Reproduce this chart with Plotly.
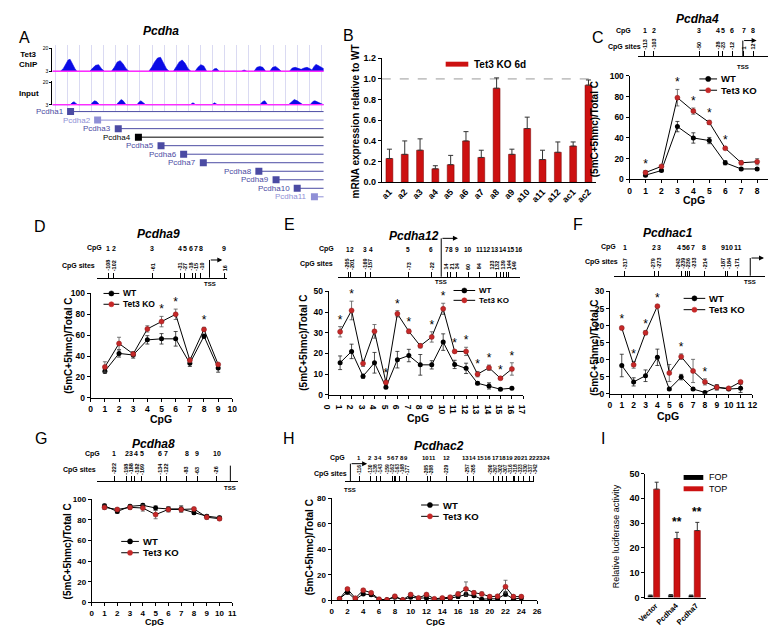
import plotly.graph_objects as go

W, H = 776, 626
FONT = "Liberation Sans, Arial, Helvetica, sans-serif"

# ============================ DATA ============================
# Panel A - browser tracks (x in track units, signal on 3..20 scale)
chip_pos = [0, 8, 11, 14, 16, 18, 20, 23, 25, 38, 41, 44, 47, 50, 53, 60, 63, 66, 69, 72, 75, 78,
            98, 101, 104, 107, 110, 113, 116, 119, 123, 126, 129, 132, 135, 138, 141, 145, 148, 151,
            154, 157, 162, 165, 167, 170, 192, 195, 198, 205, 208, 211, 214, 217, 221, 224, 227, 230,
            233, 241, 244, 247, 250, 253, 256, 259, 262, 264, 266, 268, 270, 273, 276]
chip_sig = [3, 3, 5, 9.5, 11.5, 12, 9, 5, 3, 3, 5.5, 7.5, 8, 5, 3, 3, 6, 10, 11, 8.5, 5, 3,
            3, 6, 10, 13, 13.5, 9, 5, 3, 3, 6.5, 10, 11.5, 9, 5, 3, 3, 6, 8,
            7, 3, 3, 5, 5.2, 3, 3, 4, 3, 3, 6, 6.7, 6, 3, 3, 6, 6.7, 5,
            3, 3, 5.5, 6, 5, 4.5, 5.5, 6, 5, 4, 6.5, 8.2, 7.5, 6, 5]
input_pos = [0, 18, 20, 22, 24, 26, 39, 41, 43, 45, 48, 65, 68, 70, 72, 75, 86, 88, 90, 93, 95,
             140, 143, 146, 162, 165, 168, 211, 214, 216, 219, 240, 243, 246, 249, 252, 255,
             262, 265, 267, 270, 273, 276]
input_sig = [3, 3, 4.5, 5.3, 4, 3, 3, 5, 6, 5.5, 3, 3, 5.5, 6.9, 6, 3, 3, 5, 6, 4.5, 3,
             3, 4.5, 3, 3, 4.5, 3, 3, 5.5, 6, 3, 3, 5, 6.9, 6, 4.5, 3,
             3, 5.5, 6, 5, 4, 3]
gene_names = ["Pcdha1", "Pcdha2", "Pcdha3", "Pcdha4", "Pcdha5", "Pcdha6", "Pcdha7",
              "Pcdha8", "Pcdha9", "Pcdha10", "Pcdha11"]
gene_start = [18.5, 46, 67, 87.5, 110.5, 133.5, 153.5, 210, 227.5, 249, 266.5]
gene_end = [276, 276, 276, 276, 276, 276, 276, 276, 276, 276, 276]
gene_row = [1, 2, 3, 4, 5, 6, 7, 8, 9, 10, 11]

# Panel B - mRNA expression relative to WT
b_genes = ["a1", "a2", "a3", "a4", "a5", "a6", "a7", "a8", "a9", "a10", "a11", "a12", "ac1", "ac2"]
b_expr = [0.23, 0.27, 0.31, 0.13, 0.17, 0.40, 0.24, 0.91, 0.27, 0.52, 0.22, 0.29, 0.35, 0.94]
b_err = [0.09, 0.13, 0.11, 0.03, 0.09, 0.09, 0.07, 0.10, 0.05, 0.11, 0.09, 0.10, 0.04, 0.05]

# Panel C - Pcdha4
c_cpg = [1, 2, 3, 4, 5, 6, 7, 8]
c_sites = [-113, -103, -50, -28, -23, -12, 1, 12]
c_wt = [4, 8.5, 51, 40, 37.5, 16, 10, 10]
c_wt_err = [1, 1, 5, 5, 3, 2, 1, 1]
c_ko = [6.5, 12.5, 79, 66, 55, 30, 16, 17]
c_ko_err = [2, 1, 8, 3, 2, 1, 2, 3]
c_sig = [1, 3, 4, 5, 6]

# Panel D - Pcdha9
d_cpg = [1, 2, 3, 4, 5, 6, 7, 8, 9]
d_sites = [-108, -102, -61, -31, -27, -18, -15, -10, 16]
d_wt = [25.5, 42.5, 41, 55.5, 56.5, 56.5, 33, 59, 28.5]
d_wt_err = [2, 3.5, 3, 4, 5, 7, 3, 2, 4]
d_ko = [29.5, 52, 42, 66, 73, 80, 36, 65.5, 32]
d_ko_err = [5, 6, 2, 3, 5, 5, 2, 2, 1]
d_sig = [5, 6, 8]

# Panel E - Pcdha12
e_cpg = [1, 2, 3, 4, 5, 6, 7, 8, 9, 10, 11, 12, 13, 14, 15, 16]
e_sites = [-205, -201, -169, -157, -73, -22, 14, 21, 34, 60, 84, 123, 132, 139, 144, 149]
e_wt = [15.5, 21, 9, 15.5, 3.7, 17, 19, 14.5, 14.5, 25.5, 14.7, 12.8, 5.6, 4.3, 2.7, 3.2]
e_wt_err = [3.3, 3.5, 1, 5, 0.5, 4, 3, 5, 2, 4, 2, 2.5, 0.7, 1.5, 0.5, 0.5]
e_ko = [30.5, 40.8, 15.2, 30.7, 6, 39.2, 30.7, 23.7, 28, 41.6, 21, 21, 10, 13.1, 8, 12.5]
e_ko_err = [2.5, 4.5, 1.5, 3.3, 1, 1.5, 1, 1, 2.5, 2.7, 0.5, 2, 1.3, 1.3, 0.5, 3]
e_sig = [1, 2, 5, 6, 7, 9, 10, 11, 12, 13, 14, 15, 16]

# Panel F - Pcdhac1
f_cpg = [1, 2, 3, 4, 5, 6, 7, 8, 9, 10, 11]
f_sites = [-317, -279, -273, -243, -239, -236, -233, -214, -187, -184, -171]
f_wt = [8.3, 3.5, 5.3, 10.7, 1.4, 4.9, 1.4, 0.4, 1.9, 1.4, 1.6]
f_wt_err = [3.3, 1.2, 1.7, 2.4, 0.3, 0.8, 0.3, 0.2, 0.8, 0.3, 1.2]
f_ko = [19.3, 8.5, 17.9, 25.7, 6.1, 10.9, 6.7, 3.5, 1.9, 1.6, 3.5]
f_ko_err = [0.5, 1, 0.6, 0.3, 2.5, 0.8, 3.4, 0.9, 0.5, 0.3, 0.4]
f_sig = [1, 2, 3, 4, 6, 8]

# Panel G - Pcdha8
g_cpg = [1, 2, 3, 4, 5, 6, 7, 8, 9, 10]
g_sites = [-222, -198, -188, -182, -169, -134, -122, -83, -63, -26]
g_wt = [93.6, 88, 93, 94, 91.4, 90.5, 90.5, 86.7, 83.5, 82]
g_wt_err = [1.5, 1.5, 1.5, 1.5, 2, 2, 3, 1.5, 1.5, 1.5]
g_ko = [92, 90, 92, 91.4, 85, 90, 90, 90.5, 82.5, 81]
g_ko_err = [2, 1.5, 2, 3, 4, 2.5, 2.5, 1.5, 2, 1.5]
g_sig = []

# Panel H - Pcdhac2
h_cpg = [1, 2, 3, 4, 5, 6, 7, 8, 9, 10, 11, 12, 13, 14, 15, 16, 17, 18, 19, 20, 21, 22, 23, 24]
h_sites = [-116, -130, -138, -143, -159, -162, -163, -168, -177, -205, -208, -229,
           -257, -265, -290, -297, -302, -307, -316, -318, -323, -330, -337, -342]
h_wt = [1.3, 6.4, 0.8, 5.1, 4.4, 0.8, 0.5, 2.6, 0.5, 2.6, 1.8, 2, 0.8, 1.3, 1.8, 3, 4.6, 3.6,
        1, 1.3, 1.3, 5.1, 1, 2]
h_wt_err = [0.5, 1.5, 0.5, 1, 1, 0.5, 0.3, 1, 0.3, 1, 0.8, 1, 0.5, 0.5, 0.8, 1.5, 1.5, 1,
            0.5, 0.5, 0.5, 2, 0.5, 0.8]
h_ko = [1.3, 9, 1.8, 8, 6, 1, 0.5, 3.3, 0.5, 4.6, 2, 4.6, 1.3, 2, 2.6, 5.1, 9, 6, 5.1, 3, 3.3,
        10.8, 3, 3]
h_ko_err = [0.5, 1, 0.5, 1, 1, 0.5, 0.3, 1, 0.3, 1, 0.8, 1, 0.5, 0.8, 1, 1.5, 5.5, 1.5, 1.5,
            1, 1, 5, 1, 1]
h_sig = []

# Panel I - TOP/FOP luciferase
i_cats = ["Vector", "Pcdha4", "Pcdha7"]
i_fop = [0.8, 1.0, 0.8]
i_fop_err = [0.2, 0.2, 0.2]
i_top = [43.7, 23.8, 27.0]
i_top_err = [2.8, 2.5, 3.3]
i_sig = ["", "**", "**"]

# ============================ STYLE / LAYOUT ============================
BAR_RED = "#cc1111"
KO_RED = "#c62828"
GENE_BLUE = "#4b4ba3"
GENE_LIGHT = "#8f8fd6"
TRACK_BLUE = "#0b0be6"
MAGENTA = "#ff2bff"

fig = go.Figure()
layout = {}
annotations, shapes = [], []
axis_n = [0]


def PX(x):
    return x / W


def PY(y):
    return 1 - y / H


def new_axes(x0, x1, y_top, y_bot, xcfg, ycfg):
    axis_n[0] += 1
    n = axis_n[0]
    s = '' if n == 1 else str(n)
    layout['xaxis' + s] = dict(domain=[PX(x0), PX(x1)], anchor='y' + s, **xcfg)
    layout['yaxis' + s] = dict(domain=[PY(y_bot), PY(y_top)], anchor='x' + s, **ycfg)
    return 'x' + s, 'y' + s


def ann(x, y, s, size, xref='paper', yref='paper', xanchor='center', yanchor='middle',
        bold=True, italic=False, angle=0, color='black', **kw):
    annotations.append(dict(
        x=PX(x) if xref == 'paper' else x,
        y=PY(y) if yref == 'paper' else y,
        xref=xref, yref=yref, text=s, showarrow=False, xanchor=xanchor, yanchor=yanchor,
        textangle=angle, borderpad=0,
        font=dict(family=FONT, size=size, color=color,
                  weight='bold' if bold else 'normal',
                  style='italic' if italic else 'normal'), **kw))


def ax_style(size=8.5, **kw):
    d = dict(showline=True, linecolor='black', linewidth=1, ticks='outside', ticklen=3,
             tickwidth=1, tickcolor='black', showgrid=False, zeroline=False, fixedrange=True,
             tickfont=dict(family=FONT, size=size, color='black', weight='bold'))
    d.update(kw)
    return d


def dummy(xr, yr, x, y):
    fig.add_trace(go.Scatter(x=x, y=y, mode='markers', marker=dict(size=1, opacity=0),
                             xaxis=xr, yaxis=yr, showlegend=False, hoverinfo='skip'))


def repel(pos, widths, gap=0.6):
    """Spread 1-D label centres (sorted) so neighbouring labels do not overlap."""
    q = list(pos)
    for _ in range(400):
        moved = False
        for i in range(len(q) - 1):
            need = (widths[i] + widths[i + 1]) / 2 + gap
            d = q[i + 1] - q[i]
            if d < need - 1e-6:
                sh = (need - d) / 2
                q[i] -= sh
                q[i + 1] += sh
                moved = True
        if not moved:
            break
    return q


def lines_legend(x, y, gap, length, size):
    for i, (name, col) in enumerate((('WT', 'black'), ('Tet3 KO', KO_RED))):
        yy = y + i * gap
        shapes.append(dict(type='line', xref='paper', yref='paper', x0=PX(x), x1=PX(x + length),
                           y0=PY(yy), y1=PY(yy), line=dict(color='black', width=1)))
        cx, r = x + length / 2, 2.6
        shapes.append(dict(type='circle', xref='paper', yref='paper', x0=PX(cx - r), x1=PX(cx + r),
                           y0=PY(yy + r), y1=PY(yy - r), fillcolor=col, line=dict(color=col, width=0.5)))
        ann(x + length + 3, yy, name, size, xanchor='left')


def bar_legend(x, y, gap, w, h, items, size, bold):
    for i, (name, col) in enumerate(items):
        yy = y + i * gap
        shapes.append(dict(type='rect', xref='paper', yref='paper', x0=PX(x), x1=PX(x + w),
                           y0=PY(yy + h / 2), y1=PY(yy - h / 2), fillcolor=col, line=dict(width=0)))
        ann(x + w + 5, yy, name, size, xanchor='left', bold=bold)


def schematic(sites, line_px, rng, base_y, row_y, cpg_right, sites_lab, tss_bp, tss_top,
              arrow_px, tss_lab_y, site_size=5.5, num_size=7):
    xr, yr = new_axes(line_px[0], line_px[1], base_y - 12, base_y,
                      dict(range=rng, showline=True, linecolor='black', linewidth=1, ticks='inside',
                           ticklen=5, tickwidth=1, tickcolor='black', tickvals=sites,
                           showticklabels=False, showgrid=False, zeroline=False, fixedrange=True),
                      dict(visible=False, range=[0, 1], fixedrange=True))
    dummy(xr, yr, sites, [0.5] * len(sites))
    px_per_bp = (line_px[1] - line_px[0]) / (rng[1] - rng[0])
    site_px = [line_px[0] + (s - rng[0]) * px_per_bp for s in sites]
    order = sorted(range(len(sites)), key=lambda i: site_px[i])
    # CpG index numbers (spread so they stay legible)
    num_w = [len(str(i + 1)) * 0.56 * num_size for i in order]
    num_x = repel([site_px[i] for i in order], num_w, 0.8)
    for k, i in enumerate(order):
        ann(num_x[k], row_y, str(i + 1), num_size)
    # rotated site labels
    lab_w = [site_size * 0.95 for _ in order]
    lab_x = repel([site_px[i] for i in order], lab_w, 0.3)
    for k, i in enumerate(order):
        ann(lab_x[k], base_y - 6, str(sites[i]), site_size, yanchor='bottom', angle=-90)
    ann(cpg_right, row_y, 'CpG', 7, xanchor='right')
    ann(sites_lab[0], sites_lab[1], 'CpG sites', 7, xanchor='right')
    head = tss_bp + arrow_px / px_per_bp
    shapes.append(dict(type='line', xref=xr, yref='paper', x0=tss_bp, x1=tss_bp,
                       y0=PY(base_y), y1=PY(tss_top), line=dict(color='black', width=1)))
    annotations.append(dict(x=head, y=PY(tss_top), xref=xr, yref='paper', ax=-arrow_px, ay=0,
                            axref='pixel', ayref='pixel', showarrow=True, arrowhead=2,
                            arrowsize=1, arrowwidth=1, arrowcolor='black', text=''))
    ann(tss_bp, tss_lab_y, 'TSS', 6, xref=xr)


def line_panel(x0, x1, y_top, y_bot, xmax, xdt, ymax, ydt, cpg, wt, wt_e, ko, ko_e, sig,
               ytitle_xy, xtitle_xy, tick_size=8.5, title_size=10.5):
    xr, yr = new_axes(x0, x1, y_top, y_bot,
                      ax_style(tick_size, range=[0, xmax], dtick=xdt, tick0=0),
                      ax_style(tick_size, range=[0, ymax], dtick=ydt, tick0=0))
    fig.add_trace(go.Scatter(x=cpg, y=wt, mode='lines+markers', name='WT',
                             line=dict(color='black', width=1),
                             marker=dict(color='black', size=5),
                             error_y=dict(type='data', array=wt_e, color='#222', thickness=0.8, width=2),
                             xaxis=xr, yaxis=yr, showlegend=False, hoverinfo='skip'))
    fig.add_trace(go.Scatter(x=cpg, y=ko, mode='lines+markers', name='Tet3 KO',
                             line=dict(color='black', width=1),
                             marker=dict(color=KO_RED, size=5, line=dict(color='#8a1a1a', width=0.5)),
                             error_y=dict(type='data', array=ko_e, color='#555', thickness=0.8, width=2),
                             xaxis=xr, yaxis=yr, showlegend=False, hoverinfo='skip'))
    if sig:
        fig.add_trace(go.Scatter(x=sig, y=[ko[c - 1] + ko_e[c - 1] for c in sig], mode='text',
                                 text=['*'] * len(sig), textposition='top center',
                                 textfont=dict(family=FONT, size=12, color='black'),
                                 cliponaxis=False, xaxis=xr, yaxis=yr, showlegend=False,
                                 hoverinfo='skip'))
    ann(ytitle_xy[0], ytitle_xy[1], '(5mC+5hmc)/Total C', 10, angle=-90)
    ann(xtitle_xy[0], xtitle_xy[1], 'CpG', title_size)
    return xr, yr


# ---------------- Panel A ----------------
xr, yr = new_axes(37, 313, 33, 100,
                  dict(range=[0, 276], showgrid=True, gridcolor='#dadaf2', gridwidth=1, tick0=3,
                       dtick=12.3, showticklabels=False, ticks='', showline=False, zeroline=False,
                       fixedrange=True),
                  dict(visible=False, range=[0, 1], fixedrange=True))
dummy(xr, yr, [chip_pos[0]], [0.5])

track_x = dict(range=[0, 276], visible=False, fixedrange=True)
track_y = dict(showline=True, linecolor='black', linewidth=1, ticks='outside', ticklen=2,
               tickwidth=1, tickcolor='black', tickvals=[3, 20], range=[2.5, 20.5],
               tickfont=dict(family=FONT, size=5, color='black'), showgrid=False,
               zeroline=False, fixedrange=True)
for pos, sig, top, bot in ((chip_pos, chip_sig, 35.5, 60), (input_pos, input_sig, 69.5, 94)):
    xr, yr = new_axes(37, 313, top, bot, track_x, track_y)
    fig.add_trace(go.Scatter(x=[pos[0], pos[-1]], y=[sig[0], sig[0]], mode='lines',
                             line=dict(width=0, color=TRACK_BLUE), xaxis=xr, yaxis=yr,
                             showlegend=False, hoverinfo='skip'))
    fig.add_trace(go.Scatter(x=pos, y=sig, mode='lines', fill='tonexty', fillcolor=TRACK_BLUE,
                             line=dict(color=TRACK_BLUE, width=0.6), xaxis=xr, yaxis=yr,
                             showlegend=False, hoverinfo='skip'))
    fig.add_trace(go.Scatter(x=[pos[0], pos[-1]], y=[sig[0], sig[0]], mode='lines',
                             line=dict(color=MAGENTA, width=1.6), xaxis=xr, yaxis=yr,
                             showlegend=False, hoverinfo='skip'))

gene_colors = [GENE_BLUE, GENE_LIGHT, GENE_BLUE, 'black', GENE_BLUE, GENE_BLUE, GENE_BLUE,
               GENE_BLUE, GENE_BLUE, GENE_BLUE, GENE_LIGHT]
xr, yr = new_axes(37, 313, 95, 192, track_x,
                  dict(range=[11.6, 0.4], visible=False, fixedrange=True))
for name, s, e, r, col in zip(gene_names, gene_start, gene_end, gene_row, gene_colors):
    fig.add_trace(go.Scatter(x=[s, e], y=[r, r], mode='lines', line=dict(color=col, width=1),
                             xaxis=xr, yaxis=yr, showlegend=False, hoverinfo='skip'))
    ann(s, r, name, 8, xref=xr, yref=yr, xanchor='right', bold=False, color=col, xshift=-6)
fig.add_trace(go.Scatter(x=gene_start, y=gene_row, mode='markers',
                         marker=dict(symbol='square', size=7, color=gene_colors, line=dict(width=0)),
                         xaxis=xr, yaxis=yr, showlegend=False, hoverinfo='skip'))
ann(147, 18, 'Pcdha', 12, italic=True)
ann(2, 47, 'Tet3<br>ChIP', 8, xanchor='left')
ann(2, 82, 'Input', 8, xanchor='left')

# ---------------- Panel B ----------------
xr, yr = new_axes(372, 590, 46, 172,
                  dict(type='category', showline=True, linecolor='black', linewidth=1, ticks='',
                       tickangle=-45, fixedrange=True,
                       tickfont=dict(family=FONT, size=9, color='black', weight='bold')),
                  ax_style(9, range=[0, 1.2], dtick=0.2, tickformat='.1f'))
fig.add_trace(go.Bar(x=b_genes, y=b_expr, width=0.45,
                     marker=dict(color=BAR_RED, line=dict(color='#700', width=0.5)),
                     error_y=dict(type='data', symmetric=False, array=b_err,
                                  arrayminus=[0] * len(b_err), color='#333', thickness=1, width=2.5),
                     xaxis=xr, yaxis=yr, showlegend=False, hoverinfo='skip'))
shapes.append(dict(type='line', xref=xr + ' domain', yref=yr, x0=0, x1=1, y0=1, y1=1, layer='below',
                   line=dict(color='#999999', width=1, dash='dash')))
ann(345, 110, 'mRNA expression relative to WT', 10, angle=-90)
bar_legend(437, 52, 0, 23, 5, [('Tet3 KO 6d', BAR_RED)], 10, True)

# ---------------- Panel C ----------------
schematic(c_sites, (633, 772), [-120.5, 37.2], 44, 18, 626, (637, 35), 0, 28, 14, 55)
line_panel(624, 770, 64, 169, 9, 1, 100, 20, c_cpg, c_wt, c_wt_err, c_ko, c_ko_err, c_sig,
           (588, 118), (690, 190))
lines_legend(695, 67, 11.5, 18, 9.5)
ann(693, 6, 'Pcdha4', 12, italic=True)

# ---------------- Panel D ----------------
schematic(d_sites, (82, 215), [-120.5, 19.1], 269, 239, 88, (81, 257), 0, 251, 13, 275)
line_panel(76, 220, 285, 391, 10, 1, 100, 20, d_cpg, d_wt, d_wt_err, d_ko, d_ko_err, d_sig,
           (53, 338), (147, 413))
lines_legend(89, 285, 11, 16, 8.5)
ann(145, 225, 'Pcdha9', 12, italic=True)

# ---------------- Panel E ----------------
schematic(e_sites, (327, 513), [-230.4, 175.9], 268, 240, 324, (323, 255), 0, 229, 17, 273,
          num_size=6.5)
line_panel(318, 516, 283, 388, 17, 1, 50, 10, e_cpg, e_wt, e_wt_err, e_ko, e_ko_err, e_sig,
           (293, 335), (409, 412))
lines_legend(445, 282, 10, 22, 8)
ann(405, 227, 'Pcdha12', 12, italic=True)

# ---------------- Panel F ----------------
schematic(f_sites, (608, 762), [-331.3, -135.1], 267, 238, 611, (613, 253), -154.5, 249, 14, 273)
line_panel(604, 749, 283, 387, 12, 1, 30, 5, f_cpg, f_wt, f_wt_err, f_ko, f_ko_err, f_sig,
           (588, 340), (663, 410))
lines_legend(679, 290, 11.5, 22, 9.5)
ann(663, 224, 'Pcdhac1', 12, italic=True)

# ---------------- Panel G ----------------
schematic(g_sites, (82, 226), [-255.2, 15.0], 476, 448, 86, (82, 464), 0, 460, 14, 483)
line_panel(77, 220, 494, 599, 11, 1, 100, 20, g_cpg, g_wt, g_wt_err, g_ko, g_ko_err, g_sig,
           (52, 547), (141, 619), tick_size=8, title_size=9)
lines_legend(107, 537, 11.5, 18, 9.5)
ann(140, 438, 'Pcdha8', 12, italic=True)

# ---------------- Panel H ----------------
schematic(h_sites, (335, 527), [-98, -343.3], 476, 452, 336, (338, 468), -104.5, 458, 17, 485,
          site_size=5, num_size=6)
line_panel(321, 530, 493, 597, 26, 2, 80, 20, h_cpg, h_wt, h_wt_err, h_ko, h_ko_err, h_sig,
           (298, 543), (427, 618.5), tick_size=8, title_size=9)
lines_legend(412, 500, 11.5, 18, 9.5)
ann(430, 440, 'Pcdhac2', 12, italic=True)

# ---------------- Panel I ----------------
xr, yr = new_axes(640, 702, 468, 594,
                  dict(type='category', showline=True, linecolor='black', linewidth=1, ticks='',
                       tickangle=-45, fixedrange=True,
                       tickfont=dict(family=FONT, size=7.5, color='black', weight='bold')),
                  ax_style(9, range=[0, 50], dtick=10))
fig.add_trace(go.Bar(x=i_cats, y=i_fop, width=0.27, offset=-0.38, marker=dict(color='black'),
                     error_y=dict(type='data', symmetric=False, array=i_fop_err,
                                  arrayminus=[0] * 3, color='#333', thickness=1, width=2),
                     xaxis=xr, yaxis=yr, showlegend=False, hoverinfo='skip'))
fig.add_trace(go.Bar(x=i_cats, y=i_top, width=0.3, offset=-0.09,
                     marker=dict(color=BAR_RED, line=dict(color='#700', width=0.5)),
                     error_y=dict(type='data', symmetric=False, array=i_top_err,
                                  arrayminus=[0] * 3, color='#333', thickness=1, width=2),
                     xaxis=xr, yaxis=yr, showlegend=False, hoverinfo='skip'))
for c, v, e, s in zip(i_cats, i_top, i_top_err, i_sig):
    if s:
        annotations.append(dict(x=c, y=v + e, xref=xr, yref=yr, text=s, showarrow=False,
                                xanchor='center', yanchor='bottom', xshift=1, yshift=1,
                                font=dict(family=FONT, size=12, color='black', weight='bold')))
ann(610, 532, 'Relative luciferase activity', 9, angle=-90, bold=False)
bar_legend(679, 472, 11.5, 20, 5, [('FOP', 'black'), ('TOP', BAR_RED)], 9, False)

# ---------------- panel letters ----------------
for letter, x, y in (('A', 9, 25), ('B', 338, 23), ('C', 592, 25), ('D', 24, 217), ('E', 278, 215),
                     ('F', 572, 215), ('G', 25, 432), ('H', 278, 432), ('I', 597, 432)):
    ann(x, y, letter, 16, bold=False)

layout.update(width=W, height=H, margin=dict(l=0, r=0, t=0, b=0), paper_bgcolor='white',
              plot_bgcolor='rgba(0,0,0,0)', showlegend=False, hovermode=False,
              font=dict(family=FONT, color='black'), annotations=annotations, shapes=shapes)
fig.update_layout(**layout)
fig.write_html("out.html")
